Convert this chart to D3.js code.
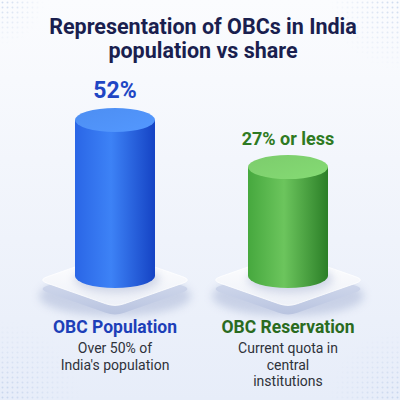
<!DOCTYPE html>
<html>
<head>
<meta charset="utf-8">
<script src="https://cdn.jsdelivr.net/npm/d3@7"></script>
<style>
  html, body { margin: 0; padding: 0; background: #fff; }
  svg { display: block; font-family: Roboto, "Open Sans", sans-serif; }
</style>
</head>
<body>
<svg width="400" height="400"></svg>
<script>
// data
let categories = ["OBC Population", "OBC Reservation"],
    values     = [52, 27],
    valueLabels = ["52%", "27% or less"],
    notes = [["Over 50% of", "India's population"], ["Current quota in", "central", "institutions"]],
    titleLines = ["Representation of OBCs in India", "population vs share"];

let width = 400, height = 400,
    base = 276, rx = 40, ry = 12;

let xScale = d3.scalePoint().domain(categories).range([115, 288]),
    // bars sit on a pedestal, so zero maps above the base line
    yScale = d3.scaleLinear().domain([0, 52]).range([218, 120]);

let palette = {
  "OBC Population":  {dark: "#1543c4", mid: "#3d82f6", light: "#2a66e6", top: "#4d8ef2", label: "#1d3fb8", value: "#1f46c4"},
  "OBC Reservation": {dark: "#2b7f27", mid: "#6cc55d", light: "#46a83e", top: "#7ccc6c", label: "#2a6b1f", value: "#2e7a22"}
};

let svg = d3.select("svg");
let defs = svg.append("defs");

// background
let bg = defs.append("linearGradient").attr("id", "bg").attr("x1", 0).attr("y1", 0).attr("x2", 0).attr("y2", 1);
bg.append("stop").attr("offset", "0%").attr("stop-color", "#fbfcfe");
bg.append("stop").attr("offset", "100%").attr("stop-color", "#e7edf9");
svg.append("rect").attr("width", width).attr("height", height).attr("fill", "url(#bg)");

// faint dot patterns in the corners
let dots = defs.append("pattern").attr("id", "dots").attr("width", 5).attr("height", 5).attr("patternUnits", "userSpaceOnUse");
dots.append("circle").attr("cx", 2.5).attr("cy", 2.5).attr("r", 1).attr("fill", "#b9cbe8");
let fadeR = defs.append("radialGradient").attr("id", "fade");
fadeR.append("stop").attr("offset", "0%").attr("stop-color", "#fff").attr("stop-opacity", 0.9);
fadeR.append("stop").attr("offset", "100%").attr("stop-color", "#fff").attr("stop-opacity", 0);
let mask = defs.append("mask").attr("id", "cornerMask");
[[400, 0, 70], [0, 0, 45], [0, 400, 80], [400, 400, 70]].forEach(c => {
  mask.append("circle").attr("cx", c[0]).attr("cy", c[1]).attr("r", c[2]).attr("fill", "url(#fade)");
});
svg.append("rect").attr("width", width).attr("height", height)
  .attr("fill", "url(#dots)").attr("mask", "url(#cornerMask)").attr("opacity", 0.8);

// title
svg.append("text")
  .attr("x", width / 2)
  .attr("y", 34)
  .style("text-anchor", "middle")
  .style("font-weight", "bold")
  .style("font-size", "21.5px")
  .attr("fill", "#1a1f4f")
  .selectAll("tspan")
  .data(titleLines)
  .join("tspan")
  .attr("x", width / 2 + 3)
  .attr("dy", (d, i) => i ? 24 : 0)
  .text(d => d);

// gradients for pedestal and bars
let plTop = defs.append("linearGradient").attr("id", "plTop").attr("x1", 0).attr("y1", 0).attr("x2", 0).attr("y2", 1);
plTop.append("stop").attr("offset", "0%").attr("stop-color", "#ffffff");
plTop.append("stop").attr("offset", "100%").attr("stop-color", "#eef1f8");
let plSide = defs.append("linearGradient").attr("id", "plSide").attr("x1", 0).attr("y1", 0).attr("x2", 0).attr("y2", 1);
plSide.append("stop").attr("offset", "0%").attr("stop-color", "#dde3f2");
plSide.append("stop").attr("offset", "100%").attr("stop-color", "#b9c4e0");
defs.append("filter").attr("id", "blur").attr("x", "-30%").attr("y", "-50%").attr("width", "160%").attr("height", "200%")
  .append("feGaussianBlur").attr("stdDeviation", 4);

categories.forEach((c, i) => {
  let p = palette[c];
  let g = defs.append("linearGradient").attr("id", "body" + i).attr("x1", 0).attr("y1", 0).attr("x2", 1).attr("y2", 0);
  g.append("stop").attr("offset", "0%").attr("stop-color", p.light);
  g.append("stop").attr("offset", "45%").attr("stop-color", p.mid);
  g.append("stop").attr("offset", "100%").attr("stop-color", p.dark);
  let t = defs.append("linearGradient").attr("id", "top" + i).attr("x1", 0).attr("y1", 0).attr("x2", 1).attr("y2", 1);
  t.append("stop").attr("offset", "0%").attr("stop-color", p.top);
  t.append("stop").attr("offset", "100%").attr("stop-color", d3.color(p.top).brighter(0.2));
});

// rounded rhombus for pedestal
function rhombus(cx, cy, hw, hh, r) {
  let pts = [[cx, cy - hh], [cx + hw, cy], [cx, cy + hh], [cx - hw, cy]];
  let path = d3.path();
  pts.forEach((pt, k) => {
    let prev = pts[(k + 3) % 4], next = pts[(k + 1) % 4];
    let a = [pt[0] + (prev[0] - pt[0]) * r, pt[1] + (prev[1] - pt[1]) * r],
        b = [pt[0] + (next[0] - pt[0]) * r, pt[1] + (next[1] - pt[1]) * r];
    k ? path.lineTo(a[0], a[1]) : path.moveTo(a[0], a[1]);
    path.quadraticCurveTo(pt[0], pt[1], b[0], b[1]);
  });
  path.closePath();
  return path.toString();
}

let groups = svg.selectAll("g.bar")
  .data(categories)
  .join("g")
  .attr("class", "bar")
  .attr("transform", d => `translate(${xScale(d)},0)`);

// shadow
groups.append("ellipse")
  .attr("cx", 0).attr("cy", base + 20).attr("rx", 76).attr("ry", 20)
  .attr("fill", "#9eabcf").attr("opacity", 0.45).attr("filter", "url(#blur)");

// pedestal side (thickness) then top face
groups.append("path")
  .attr("d", rhombus(0, base + 13, 77, 27, 0.12))
  .attr("fill", "url(#plSide)");
groups.append("path")
  .attr("d", rhombus(0, base + 4, 77, 27, 0.12))
  .attr("fill", "url(#plTop)")
  .attr("stroke", "#ffffff").attr("stroke-width", 0.8);

// soft contact shadow under cylinder
groups.append("ellipse")
  .attr("cx", 2).attr("cy", base + 3).attr("rx", rx + 3).attr("ry", ry + 2)
  .attr("fill", "#8d9bc4").attr("opacity", 0.35).attr("filter", "url(#blur)");

// cylinder body
groups.append("path")
  .attr("d", (d) => {
    let top = yScale(values[categories.indexOf(d)]);
    return `M${-rx},${top} L${-rx},${base} A${rx},${ry} 0 0 0 ${rx},${base} L${rx},${top} Z`;
  })
  .attr("fill", (d, i) => `url(#body${i})`);

// cylinder top
groups.append("ellipse")
  .attr("cx", 0)
  .attr("cy", (d, i) => yScale(values[i]))
  .attr("rx", rx).attr("ry", ry)
  .attr("fill", (d, i) => `url(#top${i})`);

// value labels
groups.append("text")
  .attr("x", 0)
  .attr("y", (d, i) => yScale(values[i]) - 22)
  .style("text-anchor", "middle")
  .style("font-weight", "bold")
  .style("font-size", (d, i) => i ? "18px" : "23px")
  .attr("fill", d => palette[d].value)
  .text((d, i) => valueLabels[i]);

// category labels
groups.append("text")
  .attr("x", 0).attr("y", 333)
  .style("text-anchor", "middle")
  .style("font-weight", "bold")
  .style("font-size", "17.5px")
  .attr("fill", d => palette[d].label)
  .text(d => d);

// notes
groups.append("text")
  .attr("y", 353)
  .style("text-anchor", "middle")
  .style("font-size", "14px")
  .attr("fill", "#2f323a")
  .selectAll("tspan")
  .data((d, i) => notes[i])
  .join("tspan")
  .attr("x", 0)
  .attr("dy", (d, k) => k ? 16.5 : 0)
  .text(d => d);
</script>
</body>
</html>
